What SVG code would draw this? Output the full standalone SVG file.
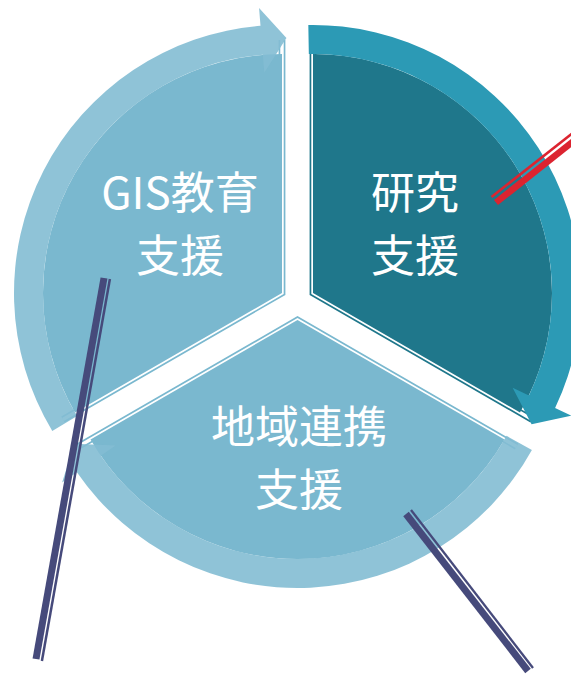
<svg xmlns="http://www.w3.org/2000/svg" width="571" height="676" viewBox="0 0 571 676">
  <style>
    .edge-lt { fill: none; stroke: #7ab8cf; stroke-width: 6.8; stroke-linejoin: miter; }
    .edge-dk { fill: none; stroke: #1f778b; stroke-width: 6.8; stroke-linejoin: miter; }
    .edge-gap { fill: none; stroke: #ffffff; stroke-width: 3.4; stroke-linejoin: miter; }
    .sec-lt { fill: #7ab8cf; }
    .sec-dk { fill: #1f778b; }
    .arr-lt { fill: #83bdd3; fill-opacity: 0.9; }
    .arr-dk { fill: #2c9ab5; }
    .lbl { font-family: "Noto Sans CJK JP", "Noto Sans", sans-serif; font-size: 44px; fill: #ffffff; text-anchor: middle; dominant-baseline: central; }
    .pin-navy { stroke: #464a7b; fill: none; stroke-linecap: butt; }
    .pin-red { stroke: #dc2430; fill: none; stroke-linecap: butt; }
  </style>

  <g id="node-gis">
    <path class="edge-lt" d="M62.9,419.5 L282,293 L282,40"/>
    <path class="edge-gap" d="M62.9,419.5 L282,293 L282,40"/>
    <path class="sec-lt" d="M282,293 L75.0,412.5 A239,239 0 0 1 282,54 Z"/>
    <path class="arr-lt" d="M52.28,431.03 A268,268 0 0 1 260.51,25.86 L259.06,7.92 L286.45,38.0 L264.28,72.71 L262.83,54.77 A239,239 0 0 0 77.14,416.09 Z"/>
    <text class="lbl" x="180" y="189.5">GIS教育</text>
    <text class="lbl" x="180" y="252.5">支援</text>
  </g>

  <g id="node-research">
    <path class="edge-dk" d="M313,40 L313,293 L532.1,419.5"/>
    <path class="edge-gap" d="M313,40 L313,293 L532.1,419.5"/>
    <path class="sec-dk" d="M313,293 L313,54 A239,239 0 0 1 520.0,412.5 Z"/>
    <path class="arr-dk" d="M308.32,25.04 A268,268 0 0 1 555.10,407.96 L571.36,415.68 L531.58,424.34 L512.64,387.80 L528.90,395.52 A239,239 0 0 0 308.83,54.04 Z"/>
    <text class="lbl" x="415" y="190">研究</text>
    <text class="lbl" x="415" y="253">支援</text>
  </g>

  <g id="node-region">
    <path class="edge-lt" d="M516.6,446.5 L297.5,320 L78.4,446.5"/>
    <path class="edge-gap" d="M516.6,446.5 L297.5,320 L78.4,446.5"/>
    <path class="sec-lt" d="M297.5,320 L504.5,439.5 A239,239 0 0 1 90.5,439.5 Z"/>
    <path class="arr-lt" d="M531.90,449.93 A268,268 0 0 1 76.90,472.18 L62.08,482.40 L74.47,443.63 L115.59,445.49 L100.77,455.71 A239,239 0 0 0 506.53,435.87 Z"/>
    <text class="lbl" x="299" y="424">地域連携</text>
    <text class="lbl" x="299" y="487">支援</text>
  </g>

  <g id="connectors">
    <line class="pin-navy" x1="104" y1="278" x2="36" y2="659" stroke-width="7"/>
    <line class="pin-navy" x1="109.9" y1="279" x2="41.9" y2="661" stroke-width="2.5"/>
    <line class="pin-red" x1="496" y1="202.5" x2="585" y2="132" stroke-width="6.5"/>
    <line class="pin-red" x1="491.5" y1="197" x2="581" y2="126.5" stroke-width="2.6"/>
    <line class="pin-navy" x1="406" y1="514" x2="528" y2="671" stroke-width="7"/>
    <line class="pin-navy" x1="411" y1="510" x2="533" y2="668" stroke-width="2.3"/>
  </g>
</svg>
